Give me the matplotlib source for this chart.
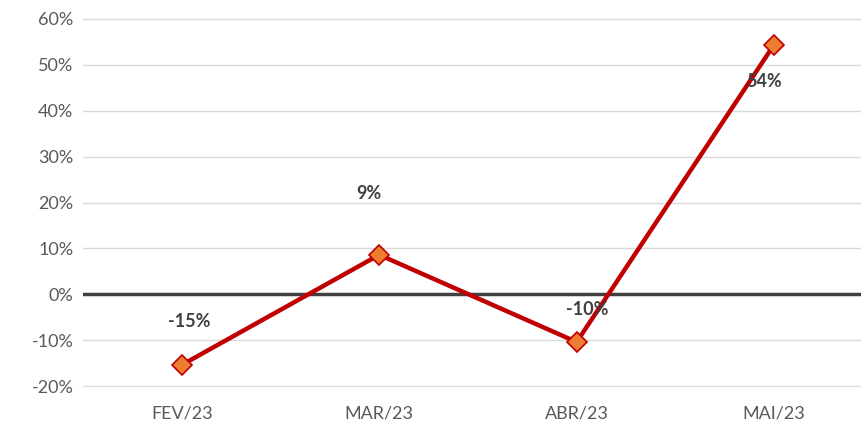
import matplotlib.pyplot as plt
import numpy as np

meses = ['FEV/23', 'MAR/23', 'ABR/23', 'MAI/23']
variacao = [-15.4, 8.6, -10.4, 54.4]
rotulos = ['-15%', '9%', '-10%', '54%']
# offsets of the data labels (pixels)
off_x = [8, -10, 11, -10]
off_y = [43, 61, 33, -37]

plt.rcParams['font.family'] = ['Lato', 'DejaVu Sans']

fig = plt.figure(figsize=(8.61, 4.30), dpi=100)
ax = fig.add_axes([83/861, (430-387)/430, (861-83)/861, (387-18)/430])

x = np.arange(len(meses))
ax.plot(x, variacao, color='#C00000', lw=3.2, marker='D', ms=10,
        mfc='#ED7D31', mec='#C00000', mew=1.2, zorder=4)

for i in range(len(meses)):
    ax.annotate(rotulos[i], (x[i], variacao[i]), xytext=(off_x[i], off_y[i]),
                textcoords='offset pixels', ha='center', va='center',
                fontsize=13, fontweight='bold', color='#404040', zorder=5)

ax.set_ylim(-20.2, 60.2)
ax.set_xlim(-0.5, 3.44)
ax.set_yticks(range(-20, 61, 10))
ax.set_yticklabels([f'{v}%' for v in range(-20, 61, 10)])
ax.set_xticks(x)
ax.set_xticklabels(meses)
ax.grid(axis='y', color='#D9D9D9', lw=1)
ax.set_axisbelow(True)
ax.axhline(0, color='#404040', lw=2.5, zorder=3)
for s in ax.spines.values():
    s.set_visible(False)
ax.tick_params(length=0, labelsize=13, colors='#595959')
ax.tick_params(axis='x', pad=13)
ax.tick_params(axis='y', pad=7)

plt.savefig('out.png', dpi=100)
